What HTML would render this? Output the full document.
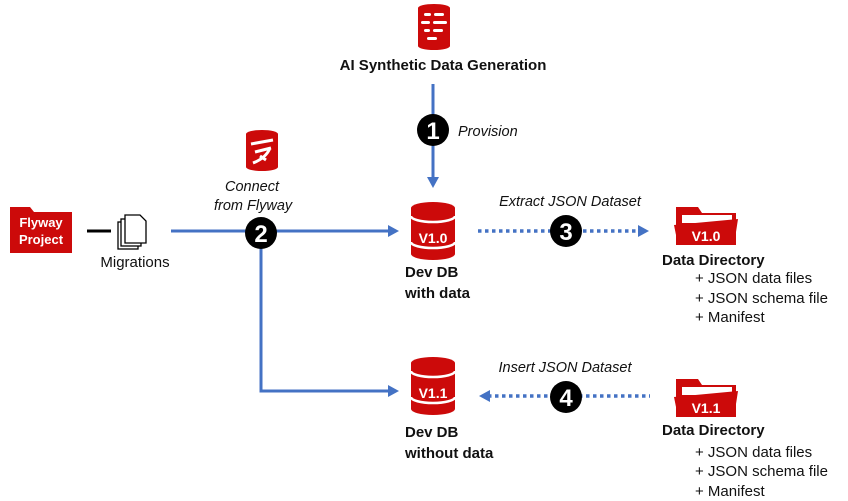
<!DOCTYPE html>
<html><head><meta charset="utf-8"><style>
html,body{margin:0;padding:0;background:#fff;width:848px;height:501px;overflow:hidden}
svg{display:block}
text{font-family:"Liberation Sans",Arial,sans-serif}
.b{font-weight:bold;font-size:15px;fill:#111}
.i{font-style:italic;font-size:14.5px;fill:#111}
.n{font-size:15px;fill:#111}
.num{font-weight:bold;font-size:24px;fill:#fff;text-anchor:middle}
.lab{font-size:14px;font-weight:bold;fill:#fff;text-anchor:middle}
</style></head><body>
<svg width="848" height="501" viewBox="0 0 848 501" xmlns="http://www.w3.org/2000/svg">
<defs>
<g id="db">
<path d="M0,6 A22,6 0 0 1 44,6 L44,52 A22,6 0 0 1 0,52 Z" fill="#cc0a0a"/>
<path d="M0,14 A22,6 0 0 0 44,14" fill="none" stroke="#fff" stroke-width="2.5"/>
<path d="M0,40 A22,6 0 0 0 44,40" fill="none" stroke="#fff" stroke-width="2.5"/>
</g>
<g id="folder">
<path d="M0,4 L0,42 L60,42 L60,10 L26,10 L22,4 Z" fill="#cc0a0a"/>
<path d="M6,12 L56,12 L56,20 L6,20 Z" fill="#fff"/>
<path d="M-2,22 L62,16 L58,42 L2,42 Z" fill="#cc0a0a"/>
</g>
</defs>

<path d="M418,8 A16,4 0 0 1 450,8 L450,46 A16,4 0 0 1 418,46 Z" fill="#cc0a0a"/>
<g fill="#fff">
<rect x="424" y="13" width="7" height="3" rx="1.5"/><rect x="434" y="13" width="10" height="3" rx="1.5"/>
<rect x="421" y="21" width="9" height="3" rx="1.5"/><rect x="433" y="21" width="14" height="3" rx="1.5"/>
<rect x="424" y="29" width="6" height="3" rx="1.5"/><rect x="433" y="29" width="10" height="3" rx="1.5"/>
<rect x="427" y="37" width="10" height="3" rx="1.5"/>
</g>
<text x="443" y="70" class="b" text-anchor="middle">AI Synthetic Data Generation</text>

<line x1="433" y1="84" x2="433" y2="178" stroke="#4472c4" stroke-width="3"/>
<path d="M427,177 L439,177 L433,188 Z" fill="#4472c4"/>
<circle cx="433" cy="130" r="16" fill="#000"/>
<text x="433" y="139" class="num">1</text>
<text x="458" y="136" class="i">Provision</text>

<path d="M246,134 A16,4 0 0 1 278,134 L278,167 A16,4 0 0 1 246,167 Z" fill="#cc0a0a"/>
<path d="M251,144 L273,140 M255,152 L271,148 M270,148 Q266,158 253,163 M260,156 L266,160" stroke="#fff" stroke-width="3" fill="none"/>
<text x="225" y="191" class="i">Connect</text>
<text x="214" y="210" class="i">from Flyway</text>

<path d="M10,207 L30,207 L34,212 L72,212 L72,253 L10,253 Z" fill="#cc0a0a"/>
<text x="41" y="227" font-size="13" font-weight="bold" fill="#fff" text-anchor="middle">Flyway</text>
<text x="41" y="244" font-size="13" font-weight="bold" fill="#fff" text-anchor="middle">Project</text>
<line x1="87" y1="231" x2="111" y2="231" stroke="#000" stroke-width="3"/>
<g fill="#fff" stroke="#000" stroke-width="1.3">
<rect x="118" y="222" width="20" height="27"/>
<rect x="121" y="219" width="20" height="27"/>
<path d="M125,215 L140,215 L146,221 L146,243 L125,243 Z"/>
</g>
<text x="135" y="267" class="n" text-anchor="middle">Migrations</text>

<line x1="171" y1="231" x2="389" y2="231" stroke="#4472c4" stroke-width="3"/>
<path d="M388,225 L399,231 L388,237 Z" fill="#4472c4"/>
<polyline points="261,233 261,391 389,391" fill="none" stroke="#4472c4" stroke-width="3"/>
<path d="M388,385 L399,391 L388,397 Z" fill="#4472c4"/>
<circle cx="261" cy="233" r="16" fill="#000"/>
<text x="261" y="242" class="num">2</text>

<use href="#db" x="411" y="202"/>
<text x="433" y="243" class="lab">V1.0</text>
<text x="405" y="277" class="b">Dev DB</text>
<text x="405" y="298" class="b">with data</text>

<line x1="478" y1="231" x2="640" y2="231" stroke="#4472c4" stroke-width="3.5" stroke-dasharray="3.5,3.5"/>
<path d="M638,225 L649,231 L638,237 Z" fill="#4472c4"/>
<circle cx="566" cy="231" r="16" fill="#000"/>
<text x="566" y="240" class="num">3</text>
<text x="570" y="206" class="i" text-anchor="middle">Extract JSON Dataset</text>

<use href="#folder" x="676" y="203"/>
<text x="706" y="241" class="lab" font-size="13">V1.0</text>
<text x="662" y="265" class="b">Data Directory</text>
<text x="695" y="283" class="n">+ JSON data files</text>
<text x="695" y="303" class="n">+ JSON schema file</text>
<text x="695" y="322" class="n">+ Manifest</text>

<use href="#db" x="411" y="357"/>
<text x="433" y="398" class="lab">V1.1</text>
<text x="405" y="437" class="b">Dev DB</text>
<text x="405" y="458" class="b">without data</text>

<line x1="488" y1="396" x2="650" y2="396" stroke="#4472c4" stroke-width="3.5" stroke-dasharray="3.5,3.5"/>
<path d="M490,390 L479,396 L490,402 Z" fill="#4472c4"/>
<circle cx="566" cy="397" r="16" fill="#000"/>
<text x="566" y="406" class="num">4</text>
<text x="565" y="372" class="i" text-anchor="middle">Insert JSON Dataset</text>

<use href="#folder" x="676" y="375"/>
<text x="706" y="413" class="lab" font-size="13">V1.1</text>
<text x="662" y="435" class="b">Data Directory</text>
<text x="695" y="457" class="n">+ JSON data files</text>
<text x="695" y="476" class="n">+ JSON schema file</text>
<text x="695" y="496" class="n">+ Manifest</text>
</svg>
</body></html>
